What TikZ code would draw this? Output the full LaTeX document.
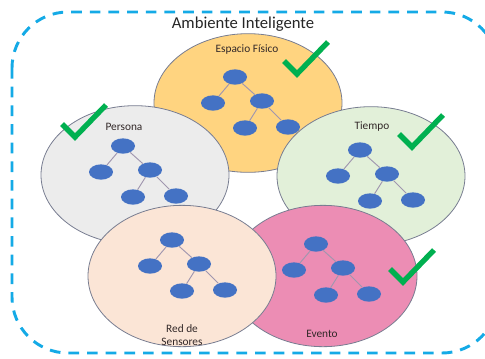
\documentclass[tikz,border=0pt]{standalone}
\usepackage{fontspec}
\setmainfont{Carlito}
\usetikzlibrary{shapes.geometric}
\definecolor{frameblue}{RGB}{20,170,230}
\definecolor{zoneline}{RGB}{120,125,145}
\definecolor{nodeblue}{RGB}{68,114,196}
\definecolor{branchgray}{RGB}{160,150,175}
\definecolor{checkgreen}{RGB}{0,176,80}
\definecolor{labeltext}{RGB}{50,40,40}
\definecolor{espaciofill}{RGB}{255,212,128}
\definecolor{personafill}{RGB}{236,236,236}
\definecolor{tiempofill}{RGB}{226,240,217}
\definecolor{eventofill}{RGB}{236,141,180}
\definecolor{sensoresfill}{RGB}{251,229,214}
\begin{document}
\begin{tikzpicture}[
    x=0.75pt, y=-0.75pt,
    zone/.style={ellipse, draw=zoneline, line width=0.6pt, minimum width=141pt, minimum height=104pt, inner sep=0pt},
    leaf/.style={ellipse, fill=nodeblue, minimum width=18pt, minimum height=11.5pt, inner sep=0pt},
    branch/.style={draw=branchgray, line width=0.7pt},
    zonelabel/.style={font=\fontsize{8.5}{10}\selectfont, text=labeltext, align=center},
    tick/.style={draw=checkgreen, line width=4pt}
]
\useasboundingbox (0,0) rectangle (485,358);
\clip (0,0) rectangle (485,358);
% Frame
\draw[frameblue, line width=2.2pt, dash pattern=on 8pt off 6pt, rounded corners=42pt] (12,12) rectangle (498,353);
\node[font=\fontsize{12.5}{15}\selectfont, text=black!85] (title) at (243,24) {Ambiente Inteligente};
% Zones, back to front
\node[zone, fill=espaciofill] (espacio) at (248,103) {};
\node[zone, fill=personafill] (persona) at (135,175) {};
\node[zone, fill=tiempofill] (tiempo) at (371,176) {};
\node[zone, fill=eventofill, minimum height=106pt] (evento) at (323,276) {};
\node[zone, fill=sensoresfill, minimum height=106pt] (sensores) at (182,276) {};
% Trees
\foreach \t/\x/\y in {e/235/77, p/123/146, t/360/150, s/172/240, v/316/244} {
    \node[leaf] (\t-root) at (\x,\y) {};
    \node[leaf] (\t-left) at (\x-22,\y+26) {};
    \node[leaf] (\t-right) at (\x+27,\y+24) {};
    \node[leaf] (\t-rl) at (\x+10,\y+51) {};
    \node[leaf] (\t-rr) at (\x+53,\y+50) {};
    \draw[branch] (\t-root) -- (\t-left);
    \draw[branch] (\t-root) -- (\t-right);
    \draw[branch] (\t-right) -- (\t-rl);
    \draw[branch] (\t-right) -- (\t-rr);
}
% Labels
\node[zonelabel] (espacio-label) at (247,50) {Espacio Físico};
\node[zonelabel] (persona-label) at (124,127) {Persona};
\node[zonelabel] (tiempo-label) at (372,127) {Tiempo};
\node[zonelabel] (sensores-label) at (182,335) {Red de\\Sensores};
\node[zonelabel] (evento-label) at (322,334) {Evento};
% Checks
\foreach \x/\y in {297/74, 75/137, 412/147, 403/282}
    \draw[tick] (\x-13,\y-13) -- (\x,\y) -- (\x+31,\y-32);
\end{tikzpicture}
\end{document}
